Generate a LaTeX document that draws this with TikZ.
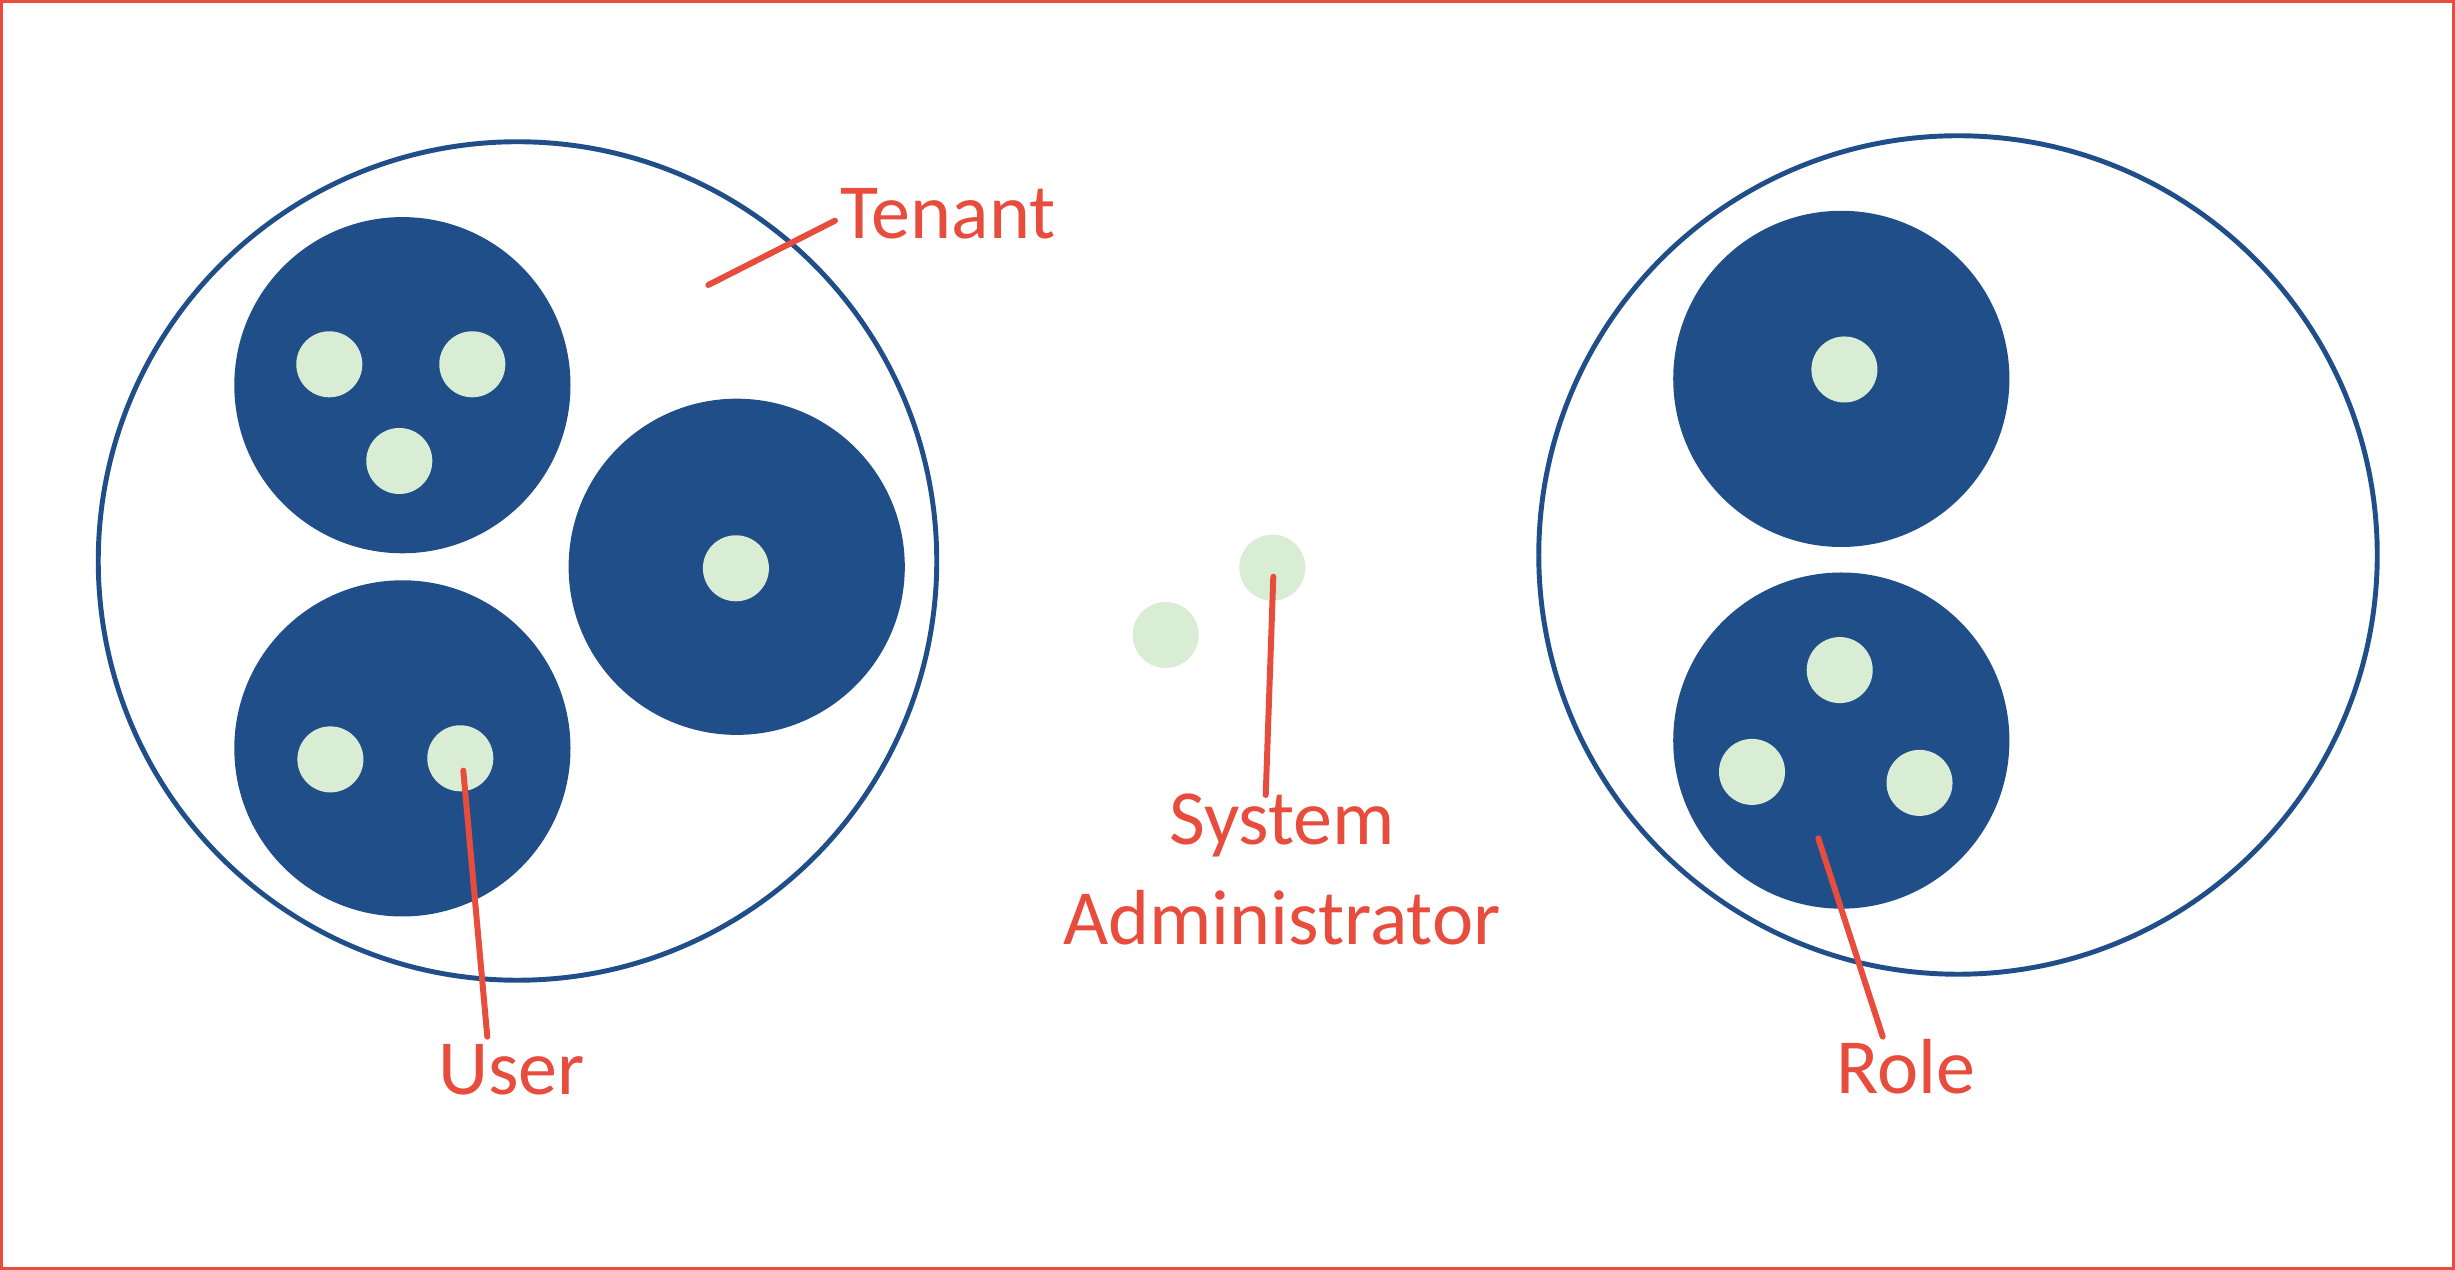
\documentclass[tikz,border=0pt]{standalone}
\usepackage{fontspec}
\setmainfont{Carlito}
\usepackage{tikz}
\usetikzlibrary{positioning}

\definecolor{navy}{HTML}{1F4E89}
\definecolor{mint}{HTML}{D9EDD5}
\definecolor{brick}{HTML}{E74C3C}

\begin{document}
\begin{tikzpicture}[
  x=0.01cm, y=0.01cm,
  tenant/.style={circle, draw=navy, line width=1.4pt, inner sep=0pt, minimum size=8.38cm},
  role/.style={circle, fill=navy, inner sep=0pt, minimum size=3.36cm},
  user/.style={circle, fill=mint, inner sep=0pt, minimum size=0.66cm},
  lbl/.style={text=brick, inner sep=0pt, align=center, font={\fontsize{22.2pt}{28.45pt}\selectfont}},
  leader/.style={draw=brick, line width=1.7pt, line cap=round}
]
\useasboundingbox (0,0) rectangle (2455,1270);
\draw[brick, line width=0.85pt] (1.5,1.5) rectangle (2453.5,1268.5);

% tenants
\node[tenant] (tenL) at (517.5,709) {};
\node[tenant] (tenR) at (1958,715) {};

% roles
\node[role] (rA) at (402.4,884.8) {};
\node[role] (rB) at (736.7,703.2) {};
\node[role] (rC) at (402.4,521.6) {};
\node[role] (rD) at (1841.3,891.1) {};
\node[role] (rE) at (1841.3,529.4) {};

% users
\node[user] (uA1) at (329.3,905.7) {};
\node[user] (uA2) at (472.3,905.7) {};
\node[user] (uA3) at (399.3,809) {};
\node[user] (uB1) at (735.9,701.7) {};
\node[user] (uC1) at (330.4,510.6) {};
\node[user] (uC2) at (460.3,511.7) {};
\node[user] (uD1) at (1844.4,900.5) {};
\node[user] (uE1) at (1839.7,599.9) {};
\node[user] (uE2) at (1752.0,498.1) {};
\node[user] (uE3) at (1919.5,487.1) {};
\node[user] (adm1) at (1165.7,635) {};
\node[user] (adm2) at (1272.3,702.3) {};

% labels
\node[lbl, anchor=base west] (tenTxt) at (840,1031) {Tenant};
\node[lbl, anchor=base] (userTxt) at (511.5,175) {User};
\node[lbl, anchor=base] (admTxt) at (1282,325) {System\\Administrator};
\node[lbl, anchor=base] (roleTxt) at (1906,176.7) {Role};

% leader lines
\coordinate (tenIn) at (708.3,985);
\coordinate (tenOut) at (835,1049.3);
\coordinate (userIn) at (463.3,499.3);
\coordinate (userOut) at (487.3,233.3);
\coordinate (admIn) at (1273.3,693.3);
\coordinate (admOut) at (1265.7,475);
\coordinate (roleIn) at (1818.3,431.7);
\coordinate (roleOut) at (1882.7,233.3);

\draw[leader] (tenIn) -- (tenOut);
\draw[leader] (userIn) -- (userOut);
\draw[leader] (admIn) -- (admOut);
\draw[leader] (roleIn) -- (roleOut);
\end{tikzpicture}
\end{document}
